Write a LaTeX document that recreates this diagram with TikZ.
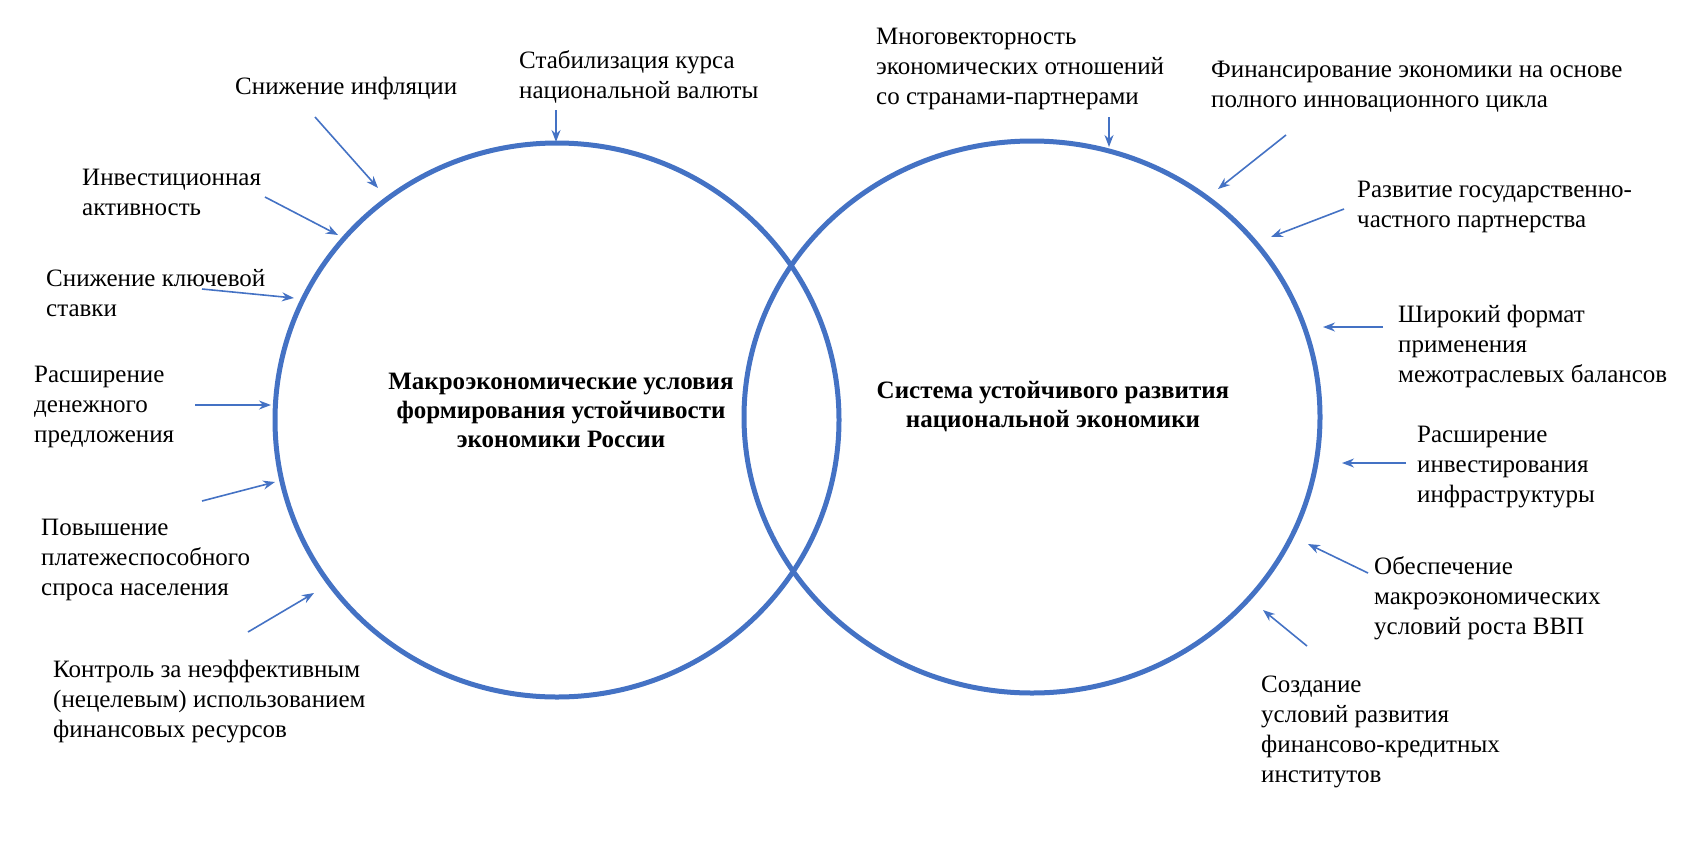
\documentclass[tikz,border=0pt]{standalone}
\usepackage{fontspec}
\setmainfont{Liberation Serif}
\usetikzlibrary{arrows.meta}
\definecolor{ringblue}{HTML}{4472C4}
\tikzset{x=1pt, y=-1pt,
ring/.style={ % the two big circles
draw=ringblue,
line width=5pt},
note/.style={ % the texts round the circles
inner sep=0pt,
align=left,
anchor=west,
font=\fontsize{25}{30}\selectfont},
title/.style={ % the texts inside the circles
inner sep=0pt,
align=center,
font=\bfseries\fontsize{25}{29}\selectfont},
arr/.style={ % thin arrows to the circles
draw=ringblue,
line width=1.6pt,
-{Stealth[length=12pt,width=9pt]}}}

\begin{document}
\begin{tikzpicture}
\useasboundingbox (0,0) rectangle (1697,860);
\draw[ring] (557,420) ellipse [x radius=282, y radius=277];
\draw[ring] (1032,417) ellipse [x radius=288, y radius=276];
\node[title] (macro) at (561,410) {Макроэкономические условия\\формирования устойчивости\\экономики России};
\node[title] (system) at (1053,407) {Система устойчивого развития\\национальной экономики};
% left side
\node[note] (stab) at (519,77) {Стабилизация курса\\национальной валюты};
\node[note] (infl) at (235,88) {Снижение инфляции};
\node[note] (invest) at (82,192) {Инвестиционная\\активность};
\node[note] (rate) at (46,293) {Снижение ключевой\\ставки};
\node[note] (money) at (34,407) {Расширение\\денежного\\предложения};
\node[note] (demand) at (41,560) {Повышение\\платежеспособного\\спроса населения};
\node[note] (control) at (53,702) {Контроль за неэффективным\\(нецелевым) использованием\\финансовых ресурсов};
% right side
\node[note] (vector) at (876,69) {Многовекторность\\экономических отношений\\со странами-партнерами};
\node[note] (cycle) at (1211,87) {Финансирование экономики на основе\\полного инновационного цикла};
\node[note] (ppp) at (1357,207) {Развитие государственно-\\частного партнерства};
\node[note] (balance) at (1398,346) {Широкий формат\\применения\\межотраслевых балансов};
\node[note] (infra) at (1417,467) {Расширение\\инвестирования\\инфраструктуры};
\node[note] (gdp) at (1374,598) {Обеспечение\\макроэкономических\\условий роста ВВП};
\node[note] (inst) at (1261,732) {Создание\\условий развития\\финансово-кредитных\\институтов};
% arrow ends
\coordinate (stab s) at (556,110); \coordinate (stab e) at (556,142);
\coordinate (infl s) at (315,117); \coordinate (infl e) at (378,188);
\coordinate (invest s) at (265,197); \coordinate (invest e) at (338,235);
\coordinate (rate s) at (202,289); \coordinate (rate e) at (294,298);
\coordinate (money s) at (195,405); \coordinate (money e) at (271,405);
\coordinate (demand s) at (202,501); \coordinate (demand e) at (275,482);
\coordinate (control s) at (248,632); \coordinate (control e) at (314,593);
\coordinate (vector s) at (1109,117); \coordinate (vector e) at (1109,147);
\coordinate (cycle s) at (1286,135); \coordinate (cycle e) at (1218,189);
\coordinate (ppp s) at (1344,209); \coordinate (ppp e) at (1271,237);
\coordinate (balance s) at (1383,327); \coordinate (balance e) at (1323,327);
\coordinate (infra s) at (1406,463); \coordinate (infra e) at (1342,463);
\coordinate (gdp s) at (1368,573); \coordinate (gdp e) at (1308,544);
\coordinate (inst s) at (1307,646); \coordinate (inst e) at (1263,610);
\foreach \n in {stab,infl,invest,rate,money,demand,control,vector,cycle,ppp,balance,infra,gdp,inst}
  \draw[arr] (\n\space s) -- (\n\space e);
\end{tikzpicture}
\end{document}
